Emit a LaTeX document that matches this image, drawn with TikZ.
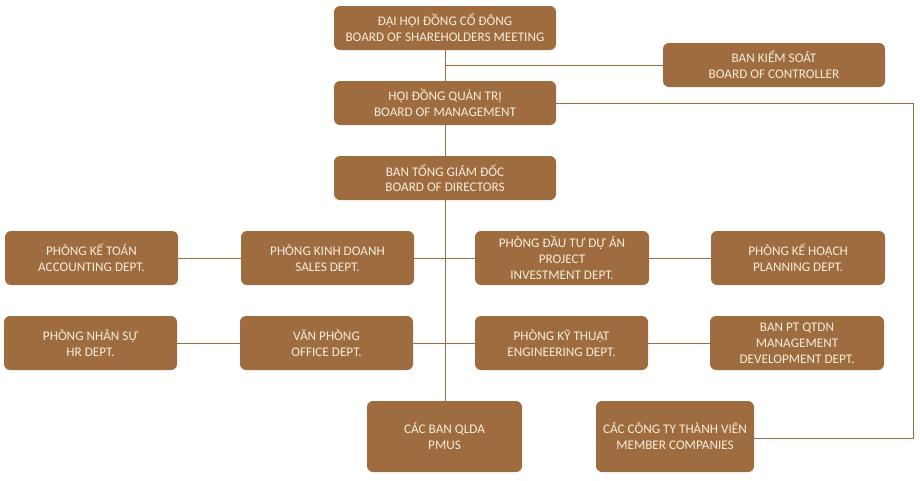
\documentclass[tikz,border=0pt]{standalone}
\usepackage{fontspec}
\setmainfont{Carlito}
\usepackage{tikz}
\usetikzlibrary{backgrounds}
\usepackage{xcolor}
\definecolor{bronze}{HTML}{9E6C3E}
\definecolor{cream}{HTML}{F6EDDC}

\tikzset{
  unit/.style={draw=none, fill=bronze, text=cream, rounded corners=6pt, align=center,
    font=\fontsize{13.2}{16}\selectfont, inner sep=0pt},
  link/.style={draw=bronze, line width=1pt}
}

\begin{document}
\begin{tikzpicture}[x=1pt, y=-1pt]
            \useasboundingbox (0,0) rectangle (920,480);
            \node[unit, minimum width=222pt, minimum height=44pt] (shm) at (445,28) {ĐẠI HỘI ĐỒNG CỔ ĐÔNG\\BOARD OF SHAREHOLDERS MEETING};
            \node[unit, minimum width=222pt, minimum height=44pt] (ctrl) at (774,65) {BAN KIỂM SOÁT\\BOARD OF CONTROLLER};
            \node[unit, minimum width=222pt, minimum height=44pt] (mgmt) at (445,103) {HỘI ĐỒNG QUẢN TRỊ\\BOARD OF MANAGEMENT};
            \node[unit, minimum width=222pt, minimum height=44pt] (dir) at (445,178) {BAN TỔNG GIÁM ĐỐC\\BOARD OF DIRECTORS};
            \node[unit, minimum width=173pt, minimum height=54pt] (acc) at (91.5,258) {PHÒNG KẾ TOÁN\\ACCOUNTING DEPT.};
            \node[unit, minimum width=173pt, minimum height=54pt] (sales) at (327.5,258) {PHÒNG KINH DOANH\\SALES DEPT.};
            \node[unit, minimum width=174pt, minimum height=54pt] (proj) at (562,258) {PHÒNG ĐẦU TƯ DỰ ÁN\\PROJECT\\INVESTMENT DEPT.};
            \node[unit, minimum width=174pt, minimum height=54pt] (plan) at (798,258) {PHÒNG KẾ HOẠCH\\PLANNING DEPT.};
            \node[unit, minimum width=173pt, minimum height=54pt] (hr) at (90.5,343) {PHÒNG NHÂN SỰ\\HR DEPT.};
            \node[unit, minimum width=173pt, minimum height=54pt] (office) at (326.5,343) {VĂN PHÒNG\\OFFICE DEPT.};
            \node[unit, minimum width=173pt, minimum height=54pt] (eng) at (561.5,343) {PHÒNG KỸ THUẬT\\ENGINEERING DEPT.};
            \node[unit, minimum width=174pt, minimum height=54pt] (mdd) at (797,343) {BAN PT QTDN\\MANAGEMENT\\DEVELOPMENT DEPT.};
            \node[unit, minimum width=155pt, minimum height=71pt] (pmu) at (444.5,436.5) {CÁC BAN QLDA\\PMUS};
            \node[unit, minimum width=158pt, minimum height=71pt] (member) at (675,436.5) {CÁC CÔNG TY THÀNH VIÊN\\MEMBER COMPANIES};
            \coordinate (rt) at (913,438);
            \begin{scope}[on background layer]
            \draw[link] (shm.south) -- (shm.south |- pmu.north);
            \draw[link] (ctrl.west) -- (ctrl.west -| shm.south);
            \draw[link] (mgmt.east) -| (rt) -- (member.east |- rt);
            \draw[link] (acc.east) -- (sales.west) (sales.east) -- (proj.west) (proj.east) -- (plan.west);
            \draw[link] (hr.east) -- (office.west) (office.east) -- (eng.west) (eng.east) -- (mdd.west);
            \end{scope}
        \end{tikzpicture}
\end{document}
